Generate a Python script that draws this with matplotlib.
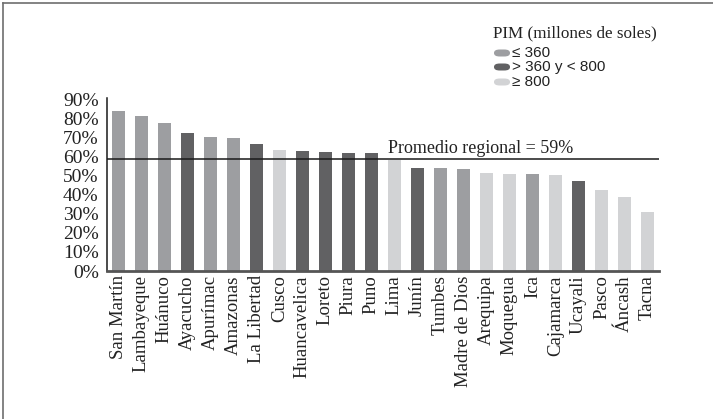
import matplotlib
matplotlib.use("Agg")
import matplotlib.pyplot as plt
from matplotlib.patches import FancyBboxPatch
from matplotlib.lines import Line2D

regions = ["San Martín", "Lambayeque", "Huánuco", "Ayacucho", "Apurímac", "Amazonas",
           "La Libertad", "Cusco", "Huancavelica", "Loreto", "Piura", "Puno", "Lima",
           "Junín", "Tumbes", "Madre de Dios", "Arequipa", "Moquegua", "Ica",
           "Cajamarca", "Ucayali", "Pasco", "Áncash", "Tacna"]
values = [84.2, 81.6, 77.9, 72.5, 70.5, 70.0, 66.8, 63.7, 63.3, 62.5, 61.9, 61.9, 58.3,
          54.4, 54.4, 53.7, 51.6, 51.0, 51.0, 50.5, 47.4, 42.6, 38.9, 31.2]
# PIM group: 0 = <=360, 1 = >360 y <800, 2 = >=800
groups = [0, 0, 0, 1, 0, 0, 1, 2, 1, 1, 1, 1, 2, 1, 0, 0, 2, 2, 0, 2, 1, 2, 2, 2]
group_labels = ["≤ 360", "> 360 y < 800", "≥ 800"]
regional_avg = 59
yticks = [0, 10, 20, 30, 40, 50, 60, 70, 80, 90]
ytick_labels = ["0%", "10%", "20%", "30%", "40%", "50%", "60%", "70%", "80%", "90%"]

group_colors = ["#9d9ea1", "#616163", "#d2d3d5"]

W, H = 713, 419
fig = plt.figure(figsize=(W / 100, H / 100), dpi=100)
serif = "Liberation Serif"
sans = "Liberation Sans"

ax = fig.add_axes([107 / W, (H - 271) / H, (659 - 107) / W, (271 - 98) / H])
x = list(range(len(regions)))
ax.bar(x, values, width=0.55, color=[group_colors[g] for g in groups], zorder=2)
ax.set_xlim(-0.49, len(regions) - 0.5)
ax.set_ylim(0, 91)
ax.axhline(regional_avg, color="#1a1a1a", lw=1.1, zorder=3)
ax.text(11.73, regional_avg + 0.8, f"Promedio regional = {regional_avg}%",
        fontsize=13, family=serif, color="#222222", ha="left", va="bottom")

ax.set_yticks(yticks)
ax.set_yticklabels(ytick_labels, family=serif, fontsize=14, color="#222222")
ax.set_xticks(x)
ax.set_xticklabels(regions, rotation=90, family=serif, fontsize=13.5, color="#222222")
ax.tick_params(axis="both", length=0)
ax.tick_params(axis="y", pad=6)
ax.tick_params(axis="x", pad=3)
for s in ["top", "right"]:
    ax.spines[s].set_visible(False)
ax.spines["left"].set_color("#1a1a1a")
ax.spines["left"].set_linewidth(1.1)
ax.spines["bottom"].set_color("#555555")
ax.spines["bottom"].set_linewidth(2.0)

# Legend (drawn manually)
fig.text(493 / W, 1 - 33 / H, "PIM (millones de soles)", family=serif, fontsize=12.3,
         color="#222222", ha="left", va="center")
ys = [53, 67, 82]
for g, yy in enumerate(ys):
    p = FancyBboxPatch((494 / W, 1 - (yy + 3.5) / H), 16 / W, 7 / H,
                       boxstyle="round,pad=0,rounding_size=0.008",
                       transform=fig.transFigure, facecolor=group_colors[g],
                       edgecolor="none")
    fig.patches.append(p)
    fig.text(512 / W, 1 - yy / H, group_labels[g], family=sans, fontsize=11,
             color="#222222", ha="left", va="center")

# Frame lines (top and left)
fig.add_artist(Line2D([3 / W, 1], [1 - 3 / H, 1 - 3 / H], transform=fig.transFigure,
                      color="#6e6e6e", lw=1.2))
fig.add_artist(Line2D([3 / W, 3 / W], [0, 1 - 3 / H], transform=fig.transFigure,
                      color="#6e6e6e", lw=1.2))

fig.savefig("out.png", dpi=100)
